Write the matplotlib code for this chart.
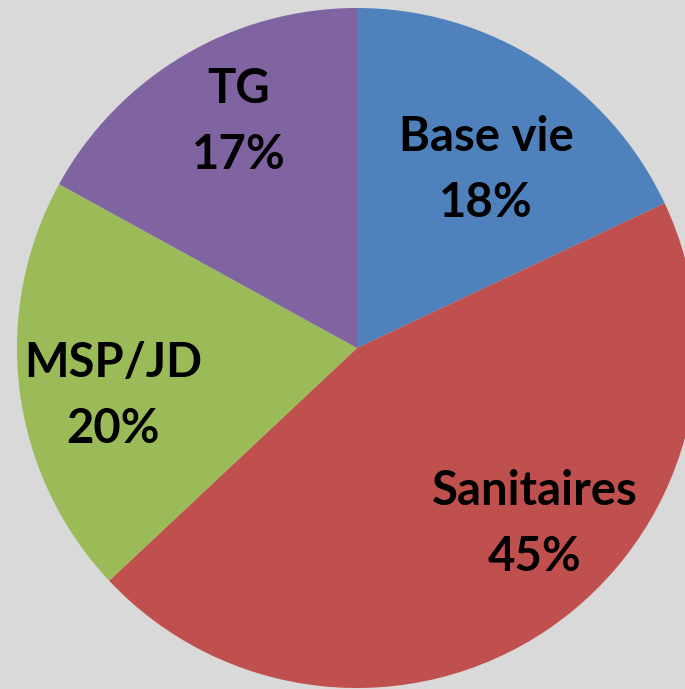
import matplotlib
matplotlib.use("Agg")
import matplotlib.pyplot as plt

# Share of each work package
categories = ["Base vie", "Sanitaires", "MSP/JD", "TG"]
shares = [18, 45, 20, 17]
colors = ["#4f81bd", "#c0504d", "#9bbb59", "#8064a2"]

# Label anchor points (pixels from top-left, centre of the two-line label)
label_xy = [(486, 170), (535, 524), (113, 396), (239, 122)]

W, H = 685, 689
fig = plt.figure(figsize=(W / 100, H / 100), dpi=100, facecolor="#d9d9d9")
ax = fig.add_axes([0, 0, 1, 1])
ax.set_facecolor("#d9d9d9")

ax.pie(shares, colors=colors, startangle=90, counterclock=False,
       center=(357, H - 348), radius=340, frame=True,
       wedgeprops=dict(linewidth=0, antialiased=True))
ax.set_xlim(0, W)
ax.set_ylim(0, H)
ax.set_aspect("equal")
ax.axis("off")

font = dict(family="Lato", weight="bold", fontsize=34, color="black",
            ha="center", va="center")
for name, val, (x, y) in zip(categories, shares, label_xy):
    ax.text(x, H - (y - 33), name, **font)
    ax.text(x, H - (y + 33), f"{val}%", **font)

fig.savefig("out.png", dpi=100, facecolor=fig.get_facecolor())
